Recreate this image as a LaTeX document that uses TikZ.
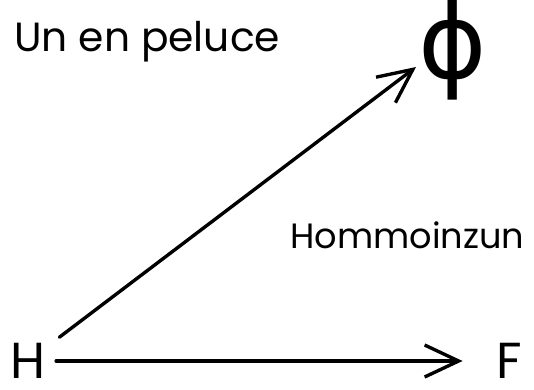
\documentclass[tikz,border=0pt]{standalone}
\usepackage{fontspec}
\setmainfont{Poppins}
\newfontfamily\symfont{DejaVu Sans}
\usetikzlibrary{arrows.meta}
\tikzset{
  arr/.style={-{Straight Barb[length=8.5mm,width=8mm]},line width=2.4pt,line cap=round},
  big/.style={font=\fontsize{36}{40}\selectfont,inner sep=0pt},
  lab/.style={inner sep=0pt,anchor=base west}
}
\begin{document}
\begin{tikzpicture}[x=0.025cm,y=-0.025cm]
  \useasboundingbox (0,0) rectangle (534,389);
  \node[big] (H) at (28,361) {H};
  \node[big] (F) at (509,361) {F};
  \node[inner sep=0pt] (phi) at (453,50) {\symfont\fontsize{74}{80}\selectfont ϕ};
  \coordinate (phitip) at (416,67);
  \draw[arr,shorten <=28pt] (H.center) -- (phitip);
  \draw[arr,shorten <=20pt,shorten >=33pt] (H.center) -- (F.center);
  \node[lab,font=\fontsize{29}{33}\selectfont] (title) at (14,51) {Un en peluce};
  \node[lab,font=\fontsize{25}{29}\selectfont] (hom) at (290,248) {Hommoinzun};
\end{tikzpicture}
\end{document}
